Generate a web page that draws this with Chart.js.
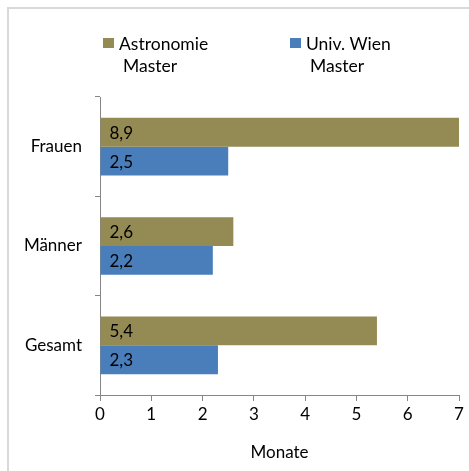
<!DOCTYPE html>
<html>
<head>
<meta charset="utf-8">
<script src="https://cdn.jsdelivr.net/npm/chart.js@4"></script>
<style>
  html, body { margin: 0; padding: 0; background: #fff; }
  #wrap { position: relative; width: 469px; height: 471px; overflow: hidden; font-family: Lato, "Open Sans", sans-serif; }
  #frame { position: absolute; left: 7px; top: 7px; width: 480px; height: 480px; border: 2px solid #d9d9d9; box-sizing: border-box; }
  #grafico { position: absolute; left: 0; top: 0; }
  .leyenda { position: absolute; font-size: 17.5px; color: #000; line-height: 22px; }
  .leyenda .cuadro { position: absolute; left: 0; top: 5px; width: 11px; height: 10px; }
  .leyenda .txt { margin-left: 16px; }
  .leyenda .txt2 { margin-left: 20px; }
</style>
</head>
<body>
<div id="wrap">
  <div id="frame"></div>
  <canvas id="grafico" width="469" height="471"></canvas>
  <div class="leyenda" style="left:103px; top:33px;">
    <div class="cuadro" style="background:#948a54;"></div>
    <div class="txt">Astronomie</div>
    <div class="txt2">Master</div>
  </div>
  <div class="leyenda" style="left:290px; top:33px;">
    <div class="cuadro" style="background:#4a7ebb;"></div>
    <div class="txt">Univ. Wien</div>
    <div class="txt2">Master</div>
  </div>
</div>
<script>
const categorias = ["Frauen", "Männer", "Gesamt"];
const astronomie = [8.9, 2.6, 5.4];
const univWien = [2.5, 2.2, 2.3];
const ticksX = [0, 1, 2, 3, 4, 5, 6, 7];

const colorOliva = "#948a54";
const colorAzul = "#4a7ebb";
const colorEje = "#868686";
const fuente = "Lato, 'Open Sans', sans-serif";

// etiquetas de valor dentro de la barra, al inicio
const etiquetasPlugin = {
  id: "etiquetas",
  afterDatasetsDraw(chart) {
    const ctx = chart.ctx;
    ctx.save();
    ctx.font = "17px " + fuente;
    ctx.fillStyle = "#000";
    ctx.textAlign = "left";
    ctx.textBaseline = "middle";
    chart.data.datasets.forEach((ds, i) => {
      const meta = chart.getDatasetMeta(i);
      meta.data.forEach((bar, j) => {
        const txt = String(ds.data[j]).replace(".", ",");
        ctx.fillText(txt, bar.base + 9, bar.y + 1);
      });
    });
    ctx.restore();
  },
};

const canvas = document.getElementById("grafico");
new Chart(canvas, {
  type: "bar",
  data: {
    labels: categorias,
    datasets: [
      { label: "Astronomie Master", data: astronomie, backgroundColor: colorOliva, barPercentage: 1, categoryPercentage: 0.58 },
      { label: "Univ. Wien Master", data: univWien, backgroundColor: colorAzul, barPercentage: 1, categoryPercentage: 0.58 },
    ],
  },
  options: {
    indexAxis: "y",
    responsive: false,
    animation: false,
    devicePixelRatio: 1,
    layout: { padding: { top: 97, right: 10, left: 0, bottom: 0 } },
    plugins: { legend: { display: false }, tooltip: { enabled: false } },
    scales: {
      x: {
        min: 0,
        max: 7,
        afterBuildTicks: (scale) => { scale.ticks = ticksX.map((v) => ({ value: v })); },
        afterFit: (scale) => { scale.height = 76; },
        border: { color: colorEje, width: 1 },
        grid: { drawOnChartArea: false, color: colorEje, tickLength: 6 },
        ticks: { color: "#000", font: { family: fuente, size: 17 }, padding: 3 },
        title: { display: true, text: "Monate", color: "#000", font: { family: fuente, size: 17 }, padding: { top: 0, bottom: 8 } },
      },
      y: {
        afterFit: (scale) => { scale.width = 100; },
        border: { color: colorEje, width: 1 },
        grid: { drawOnChartArea: false, color: colorEje, tickLength: 5, offset: true },
        ticks: { color: "#000", font: { family: fuente, size: 17 }, padding: 13 },
      },
    },
  },
  plugins: [etiquetasPlugin],
});
</script>
</body>
</html>
